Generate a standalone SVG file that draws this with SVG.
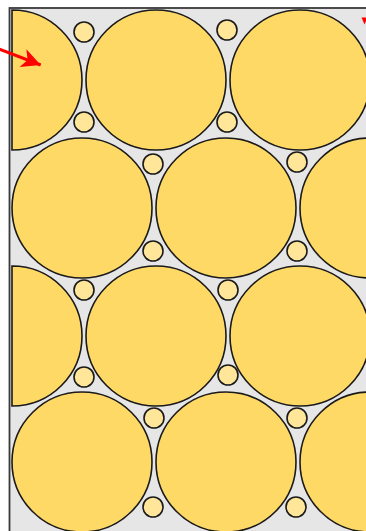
<svg xmlns="http://www.w3.org/2000/svg" width="366" height="531" viewBox="0 0 366 531">
<style>
.big{fill:#ffd966;stroke:#1a1a1a;stroke-width:1.6}
.small{fill:#ffe699;stroke:#1a1a1a;stroke-width:1.6}
.arrow{stroke:#ff0000;stroke-width:3;fill:none}
</style>
<defs>
<marker id="ah" markerWidth="20" markerHeight="20" refX="19" refY="9.5" orient="auto" markerUnits="userSpaceOnUse">
<path d="M0,0 L19,9.5 L0,19 L5,9.5 Z" fill="#ff0000"/>
</marker>
</defs>
<rect x="9.5" y="8" width="400" height="560" fill="#e6e6e6" stroke="#3a3a3a" stroke-width="1.8"/>
<g id="big-r1c1"><path class="big" d="M12,10 A70,70 0 0,1 12,150 Z"/></g>
<g id="big-r1c2"><circle class="big" cx="156" cy="80" r="70"/></g>
<g id="big-r1c3"><circle class="big" cx="300" cy="80" r="70"/></g>
<g id="big-r2c1"><circle class="big" cx="82" cy="208" r="70"/></g>
<g id="big-r2c2"><circle class="big" cx="226" cy="208" r="70"/></g>
<g id="big-r2c3"><circle class="big" cx="370" cy="208" r="70"/></g>
<g id="big-r3c1"><path class="big" d="M12,266 A70,70 0 0,1 12,406 Z"/></g>
<g id="big-r3c2"><circle class="big" cx="156" cy="336" r="70"/></g>
<g id="big-r3c3"><circle class="big" cx="300" cy="336" r="70"/></g>
<g id="big-r4c1"><circle class="big" cx="82" cy="462" r="70"/></g>
<g id="big-r4c2"><circle class="big" cx="226" cy="462" r="70"/></g>
<g id="big-r4c3"><circle class="big" cx="370" cy="462" r="70"/></g>
<g id="s1"><circle class="small" cx="84" cy="32" r="10"/></g>
<g id="s2"><circle class="small" cx="227" cy="30" r="10"/></g>
<g id="s3"><circle class="small" cx="84" cy="122" r="10"/></g>
<g id="s4"><circle class="small" cx="227" cy="122" r="10"/></g>
<g id="s5"><circle class="small" cx="153" cy="164" r="10"/></g>
<g id="s6"><circle class="small" cx="297" cy="162" r="10"/></g>
<g id="s7"><circle class="small" cx="153" cy="251" r="10"/></g>
<g id="s8"><circle class="small" cx="297" cy="251" r="10"/></g>
<g id="s9"><circle class="small" cx="84" cy="290" r="10"/></g>
<g id="s10"><circle class="small" cx="228" cy="290" r="10"/></g>
<g id="s11"><circle class="small" cx="84" cy="377" r="10"/></g>
<g id="s12"><circle class="small" cx="228" cy="375" r="10"/></g>
<g id="s13"><circle class="small" cx="154" cy="418" r="10"/></g>
<g id="s14"><circle class="small" cx="297" cy="418" r="10"/></g>
<g id="s15"><circle class="small" cx="153" cy="507" r="10"/></g>
<g id="s16"><circle class="small" cx="296" cy="507" r="10"/></g>
<g id="connectors">
<line class="arrow" x1="-2" y1="48.5" x2="40.7" y2="65" marker-end="url(#ah)"/>
<polygon points="361.5,17.5 366,17.5 366,21 364.5,24.5" fill="#ff0000"/>
</g>
</svg>
